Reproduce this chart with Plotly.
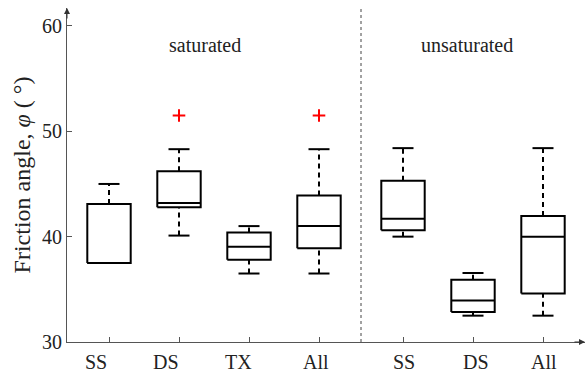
import plotly.graph_objects as go

labels = ["SS", "DS", "TX", "All", "SS", "DS", "All"]
positions = [1, 2, 3, 4, 5.2, 6.2, 7.2]
label_positions = [0.82, 1.82, 2.85, 3.96, 5.22, 6.24, 7.22]
lower = [37.5, 40.1, 36.5, 36.5, 40.0, 32.5, 32.5]
q1 = [37.5, 42.8, 37.8, 38.9, 40.6, 32.85, 34.6]
median = [37.5, 43.2, 39.05, 41.0, 41.7, 33.95, 40.0]
q3 = [43.1, 46.2, 40.4, 43.9, 45.3, 35.9, 41.95]
upper = [45.0, 48.3, 41.0, 48.3, 48.4, 36.55, 48.4]
outlier_x = [2, 4]
outlier_y = [51.5, 51.5]
group_names = ["saturated", "unsaturated"]

hw = 0.31  # box half width
cw = 0.15  # cap half width

sx, sy, dx, dy = [], [], [], []
for c, lo, a, m, b, hi in zip(positions, lower, q1, median, q3, upper):
    sx += [c - hw, c + hw, c + hw, c - hw, c - hw, None]
    sy += [a, a, b, b, a, None]
    sx += [c - hw, c + hw, None]
    sy += [m, m, None]
    sx += [c - cw, c + cw, None, c - cw, c + cw, None]
    sy += [hi, hi, None, lo, lo, None]
    dx += [c, c, None, c, c, None]
    dy += [b, hi, None, lo, a, None]

fig = go.Figure()
fig.add_trace(go.Scatter(x=dx, y=dy, mode="lines",
                         line=dict(color="black", width=2, dash="5px,4px"),
                         hoverinfo="skip", showlegend=False))
fig.add_trace(go.Scatter(x=sx, y=sy, mode="lines",
                         line=dict(color="black", width=2),
                         hoverinfo="skip", showlegend=False))
fig.add_trace(go.Scatter(x=outlier_x, y=outlier_y, mode="markers",
                         marker=dict(symbol="cross-thin", size=9,
                                     line=dict(color="red", width=2)),
                         showlegend=False))

axis_color = "#555555"
annotations = [
    dict(text=group_names[0], x=2.37, y=58.2, xref="x", yref="y",
         showarrow=False, font=dict(size=20)),
    dict(text=group_names[1], x=6.11, y=58.2, xref="x", yref="y",
         showarrow=False, font=dict(size=20)),
    dict(x=0, y=1, xref="paper", yref="paper", ax=0, ay=12,
         showarrow=True, arrowhead=2, arrowsize=1.2, arrowwidth=1,
         arrowcolor="#333333", text=""),
    dict(x=1, y=0, xref="paper", yref="paper", ax=-12, ay=0,
         showarrow=True, arrowhead=2, arrowsize=1.2, arrowwidth=1,
         arrowcolor="#333333", text=""),
]
for lp, lab in zip(label_positions, labels):
    annotations.append(dict(text=lab, x=lp, y=0, xref="x", yref="paper",
                            yanchor="top", yshift=-7, showarrow=False,
                            font=dict(size=20)))

fig.update_layout(
    width=587, height=377,
    margin=dict(l=67, r=2, t=8, b=35),
    plot_bgcolor="white", paper_bgcolor="white",
    font=dict(family="Liberation Serif", size=20, color="#222222"),
    xaxis=dict(range=[0.4, 7.8], tickvals=positions,
               ticktext=[""] * len(positions),
               showline=True, linecolor=axis_color, linewidth=1,
               ticks="inside", ticklen=5, tickcolor=axis_color,
               showgrid=False, zeroline=False, fixedrange=True),
    yaxis=dict(range=[30, 61.7], tickvals=[30, 40, 50, 60],
               showline=True, linecolor=axis_color, linewidth=1,
               ticks="inside", ticklen=5, tickcolor=axis_color,
               showgrid=False, zeroline=False,
               title=dict(text="Friction angle, <i>φ</i> ( °)", standoff=4)),
    shapes=[dict(type="line", xref="x", yref="paper", x0=4.6, x1=4.6,
                 y0=0, y1=1, line=dict(color="#444444", width=1, dash="3px,3px"))],
    annotations=annotations,
)

fig.write_html("out.html")
